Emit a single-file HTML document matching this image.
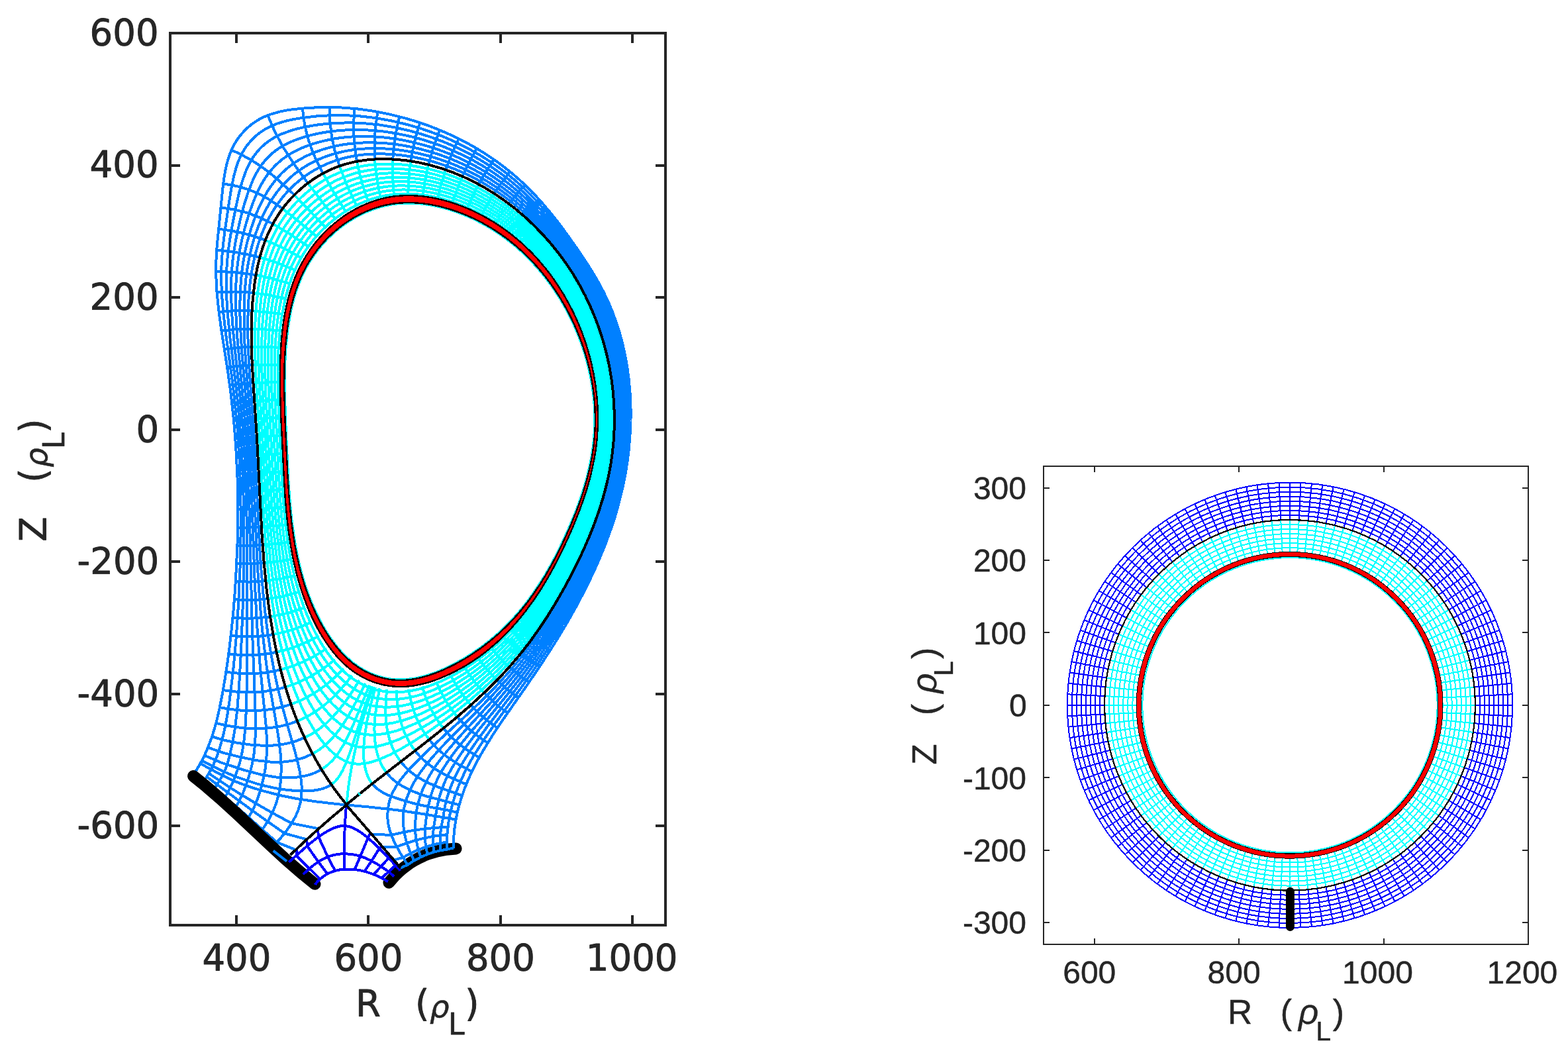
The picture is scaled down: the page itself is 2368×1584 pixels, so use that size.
<!DOCTYPE html>
<html lang="en">
<head>
<meta charset="utf-8">
<title>Tokamak edge grids: single-null and annular geometry</title>
<style>
html,body{margin:0;padding:0;background:#fff;}
body{width:2368px;height:1584px;overflow:hidden;}
svg{display:block;}
text{fill:#262626;stroke:#262626;stroke-linejoin:round;}
.lt{font-family:'DejaVu Sans','Liberation Sans',sans-serif;}
.rt{font-family:'Liberation Sans','DejaVu Sans',sans-serif;}
</style>
</head>
<body>
<svg width="2368" height="1584" viewBox="0 0 2368 1584">
<rect x="0" y="0" width="2368" height="1584" fill="#ffffff"/>
<g id="left-plot">
<g fill="none" stroke-linejoin="round" shape-rendering="crispEdges">
<path id="plate-right" d="M587.4 1332.7l9.4-10.8l5-4.9l6.3-5.5l11.4-8.4l6.1-3.7l7.2-3.9l7.5-3.5l6.6-2.6l13.6-4.1l13.9-2.6l14.2-1.2" stroke="#000" stroke-width="18" stroke-linecap="round" shape-rendering="auto"/>
<path id="sol-mesh" d="M615.5 1305.9l-11.1-17.9l-8.1-15l-3.2-7l-2.8-7l-1.9-6l-1.5-6l-1.2-7l-0.4-6l0.1-6l0.7-7l0.9-6l1.3-6l2-6l2.5-6l5.5-10l7-10l8.9-11l12-13l22.5-22l51.3-47l24-22.7l24-24l21-22.9l19-22.8l18-23.7l17.8-25.9l16.8-27l11-19l10.9-20l9.7-19l9.2-19l8-18l7.6-18.5l6.6-17.5l6-18l5.1-17l4.4-17l3.7-17l3-17l2.3-17l1.6-17l0.9-17l0.3-17l-0.5-18l-1.3-18l-1.9-17l-2.8-18l-3.6-18l-4.1-17l-4.9-17l-5.7-17l-6.2-16l-6.9-16l-7.8-16l-8.1-15l-9-15l-9.8-15l-10.3-14.4l-11-14l-12-14.1l-12-12.9l-12-11.9l-13-11.8l-13-10.8l-14-10.6l-14-9.6l-15-9.3l-14-7.8l-15-7.4l-15-6.6l-16-6l-16-5.2l-15-3.9l-16-3.4l-16-2.6l-11-1.2l-11-0.8l-11-0.4l-10 0.1l-10 0.5l-10 0.9l-10 1.4l-10 2l-9 2.2l-9 2.7l-9 3.2l-8 3.3l-8 3.8l-8.4 4.6l-8.1 5l-7.5 5.2l-8 6.3l-7 6.1l-6.6 6.4l-6.4 7l-6 7.2l-5.8 7.8l-5.2 7.8l-4.9 8.2l-4.8 9l-4.3 9l-4 9.5l-3.5 9.5l-3.3 10l-2.8 10l-2.7 11l-2.3 11l-2 12l-1.8 13l-1.4 14l-1 14l-1 30l0.4 33l2 40l5.5 75l2.2 34l8 161l2.5 36l2.7 32l3.2 31l3.8 29l4.3 28l5 27l5.3 25l6.3 26l6.6 24.4l13.2 46.6l4.9 19l2.4 11l1.6 9l1.1 8l0.5 8l-0.3 12l-1.7 11l-3.2 11l-4.3 10l-6.3 11l-8.3 12l-9.9 12l-10.5 11.1M625.2 1299.7l-6.9-15.7l-4.8-14l-3.1-13l-1.5-13l-0.2-7l0.2-6l0.6-6l1-6l3.5-13l5.2-13l5.6-11l7.4-12l9.5-13l10.8-13l9.9-11l11.3-12l49.3-49.7l22-23l22-24.3l19-22.9l18-23.6l18-26l16.8-26.5l16.2-27.8l10.4-19.2l9.2-18l8.6-18l7.7-17l7.1-17l6.5-17l5.9-17l4.9-16l4.7-17l3.8-16l3.2-16l2.6-16l1.9-16l1.4-16l0.8-17l0.1-16l-0.5-18l-1.3-18l-2.1-18l-2.6-17l-3.6-18l-4.1-17l-5-17l-5.3-16l-6.1-16l-6.9-16l-7.3-15l-8.1-15l-8.9-15l-9.7-15l-10.3-14.5l-11.1-14.5l-11.9-14.4l-12-13.3l-12-12.3l-13-12.2l-13-11.2l-13-10.3l-14-10l-14-9.1l-15-8.8l-15-7.8l-15-7l-15-6.1l-15-5.3l-16-4.8l-16-4l-16-3.1l-12-1.8l-11-1.2l-11-0.9l-11-0.3l-11 0l-10 0.5l-11 1l-10 1.4l-10 1.9l-10 2.4l-9 2.7l-9 3.1l-9 3.7l-8 3.8l-8.1 4.4l-8.2 5l-7.1 5l-6.6 5.1l-6.7 5.9l-6.3 6.3l-6.1 6.7l-5.9 7.4l-5.4 7.6l-5.1 8l-5.1 9l-4.4 8.6l-4 8.7l-4 9.8l-3.6 9.9l-3.5 11l-3 11l-2.6 11l-2.4 12l-2.1 13l-1.6 13l-1.2 13l-0.9 14l-0.5 15l0.1 33l0.8 21l1.4 24l7 89l2.7 41l2.3 47l4.5 105l2.6 49l4.2 57l2.5 26l2.9 25l3.2 25l3.7 24l11.6 67l3.1 20l2.5 21l1 19l-0.3 15l-1.4 15l-2.2 12l-3.4 12l-4.6 12l-6 12l-7.4 12l-8.7 11.8M635.3 1294.3l-4.8-16.3l-2.6-14l-0.6-7l-0.3-8l0.7-15l0.9-7l1.5-8l1.9-8l2.4-8l2.8-8l2.9-7l6.9-14l5.4-9l6.7-10l7.4-10l8.8-11l18.2-21l47.5-51.9l22-24.8l22-26.7l11-14.3l10-13.6l12-17.2l11-16.7l11-17.6l10.8-18.2l10.6-19l10-19l9.5-19l8.4-18l11.8-28l10-27l8.4-27l6.5-26l5.1-26l3.4-26l1.2-13l0.8-14l0.3-26l-0.6-18l-1.4-18l-2.2-18l-2.7-17l-3.5-17l-4.2-17l-4.9-17l-5.8-17l-6.3-16l-6.6-15l-7.4-15l-7.6-14l-9-15l-10.5-16l-11.1-15.7l-11-14.5l-11-13.4l-12-13.5l-12-12.6l-13-12.5l-13-11.5l-13-10.4l-13-9.6l-14-9.4l-14-8.5l-15-8.2l-15-7.3l-15-6.5l-15-5.7l-16-5.2l-16-4.4l-16-3.6l-12-2.2l-12-1.7l-12-1.3l-11-0.7l-11-0.3l-11 0.1l-11 0.5l-11 1.1l-11 1.6l-10 1.9l-10 2.4l-10 2.9l-9 3.2l-9 3.6l-9 4.3l-8 4.4l-7 4.4l-7 5l-6 4.9l-6 5.5l-5.7 5.9l-5.3 6.2l-5.1 6.8l-5.4 8l-4.7 8l-4.7 9l-4.3 9l-4.2 10l-7.4 21l-6.2 22l-3.1 14l-2.5 14l-2.1 15l-1.5 15l-0.9 16l-0.5 16l0 17l0.6 19l2.2 38l8.3 97l3.4 51l2.8 60l5 139l3.5 67l4.5 60l8.8 89l1.2 18l0.3 16l-0.6 17l-1.6 15l-2.6 14l-4.9 19l-4.2 13l-5 12l-6.1 12l-7 11.2M645.5 1290l-2.6-13l-1.2-13l0.2-13l1.6-14l3.6-21l4.1-16l2.3-7l3.1-8l7.3-15l5.2-9l6.4-10l7.8-11l8.3-11l17.9-22l45.5-53.2l20-24.1l21-27.1l19-26.6l11-16.5l11-17.2l10.5-17.3l10.3-18l9.8-18l9.9-19l8.7-18l7.7-17l11.6-28l9.6-27l8.2-27l6.5-27l4.8-26l1.8-13l1.5-14l1.8-27l0.1-26l-0.7-18l-1.5-18l-2.3-18l-2.8-17l-3.8-18l-4.3-17l-5.1-17l-5.6-16l-6-15l-6.7-15l-7.5-15l-7.8-14l-9.1-15l-10.6-16l-11.3-16l-11.7-15.5l-12-14.7l-12-13.6l-12-12.7l-12-11.7l-12-10.8l-13-10.8l-13-9.8l-14-9.6l-14-8.7l-15-8.4l-15-7.6l-15-6.7l-15-5.9l-16-5.6l-16-4.7l-16-4l-13-2.7l-12-2l-12-1.6l-12-1.1l-12-0.7l-11-0.2l-12 0.2l-11 0.7l-11 1.2l-11 1.6l-11 2.2l-11 2.7l-10 2.9l-10 3.6l-9 3.7l-8 3.9l-7 4l-6 3.9l-6.2 4.5l-5.9 5l-5.2 5l-5.4 6l-4.7 6l-4.9 7l-4.2 7l-4.3 8l-7.6 17l-7.6 20.8l-6.8 23.2l-3.7 15l-2.9 14l-2.4 14l-1.8 14l-1.3 14l-0.9 15l-0.3 16l0.1 16l0.8 21l1.5 24l11.3 122l2.5 35l2.2 39l2.5 71l4.2 177.5l4.6 120.5l0.3 31l-0.7 17l-1.6 16l-2.4 14l-3.7 15l-5 16l-5.7 15l-6.2 13l-7.6 13.4M655.5 1286.6l-1-7.6l-0.6-7l-0.1-7l0.3-7l1.5-13l5.1-29l3-13l3.9-12l4.9-12l5.9-12l5.7-10l6.2-10l7.4-11l8.7-12l17.6-23l42-52l19-24.2l20-27.2l19.6-28.6l10.9-17l10.4-17l10-17l9.5-17l9.5-18l8.5-17l8.1-17l7.5-17l11.2-28l9.6-28l7.8-27l6.2-27l4.6-27l3-27l1.5-27l-0.1-27l-0.9-18l-1.7-18l-2.4-18l-3-17l-3.7-17l-4.5-17l-5.3-17l-5.8-16l-6.1-15l-6.5-14l-7.2-14l-8.5-15l-9.9-16l-11.3-16.8l-12-16.8l-12-15.8l-12-14.7l-12-13.7l-12-12.7l-12-11.8l-12-10.8l-13-10.8l-13-9.8l-13-9l-14-8.8l-15-8.6l-15-7.6l-15-6.9l-15-6.2l-16-5.7l-16-5l-16-4.3l-24-5l-12-1.9l-12-1.5l-12-1l-11-0.6l-12-0.3l-11 0.3l-12 0.6l-11 1.1l-11 1.5l-11 1.9l-11 2.4l-10 2.7l-10 3.2l-8.9 3.4l-7.1 3.2l-7 3.6l-6 3.6l-6 4.2l-5.4 4.4l-5.4 5l-4.6 5l-4.6 5.7l-4 5.8l-4 6.5l-3.7 7l-3.3 7.1l-6.5 16.9l-6.3 20l-4.7 18l-4.2 18l-3.5 17l-2.6 16l-2 15l-1.3 15l-0.7 15l-0.2 16l0.8 27l2.2 31l2.6 27l7.9 73l4 45l2.7 40l2 44l1.6 63l0.6 76l-0.4 132l-0.5 46l-0.7 28l-1.2 23l-1.8 20l-2.7 18l-3.3 15l-3.9 13l-7.2 19l-6.8 14l-8.4 14.4M665.4 1284.2l-0.8-13.2l0.7-14l1.4-10l2.7-13l1.6-11l1.5-8l3.1-12l4.3-13l5-12l6.4-13l5.5-10l6.6-11l7-11l8.9-13l17.5-24l39.2-51.2l18-24.2l21-29.9l19-28.9l20.5-33.8l18.3-33l8.8-17l7.8-16l7.3-16l6.9-16l10.9-28l9.3-28l7.8-28l5.9-27l2.5-14l2-14l1.7-14l1.2-14l0.8-14l0.5-14l-0.4-27l-1.1-18l-1.9-18l-2.6-18l-3.1-17l-3.9-17l-4.7-17l-5.5-17l-6.1-16l-6.4-15l-6.7-14l-7.5-14l-8.8-15l-10.9-17l-12.6-18.4l-13-18l-12-15.6l-11-13.4l-12-13.6l-12-12.7l-12-11.8l-12-10.8l-12-9.9l-13-9.8l-13-9l-14-8.9l-15-8.6l-15-7.8l-15-7l-15-6.3l-16-5.9l-16-5.2l-17-4.8l-24-5.4l-23-3.7l-23-2.3l-22-0.8l-23 0.7l-11.7 1l-11.3 1.3l-11 1.7l-11 2.1l-10 2.3l-9 2.6l-14 5l-7 3.2l-6 3.3l-5.6 3.5l-5.4 4l-5 4.2l-4.9 4.8l-4.1 4.7l-4.1 5.3l-3.9 5.9l-3.4 6.1l-6 13l-5.4 16l-4.2 15.5l-4.6 20.5l-5.4 27.1l-3.9 22.9l-2.4 17l-1.7 16l-1 16l-0.3 16l0.6 24l1.9 27l3 30l8.8 71.6l4.3 40.4l3.7 46l2.6 48l1.6 59l0.1 64l-1.4 73l-2.8 72l-2.8 50l-2.9 38l-3.2 28l-4.3 25l-4.9 21l-2.5 9l-2.4 7l-3.3 7l-4.8 9.1l-12 19.6M675 1282.6l-0.3-9.6l0.6-12l2.7-24l0.9-5l5.3-21l4.8-15l6.3-16l8-17l5.9-11l6.3-11l15.9-25l16.7-24l38.9-53.4l18-25.5l20.2-30.1l19-30l19.3-33l17.2-32l15-31l7.1-16l6.2-15l10.8-29l8.9-28l7.3-28l5.8-28l4.1-28l2.5-28l0.7-14l0.3-14l-0.1-14l-0.6-14l-1.4-19l-2.1-18l-2.9-18l-3.4-17l-4.2-17l-5-17l-5.5-16l-6.3-16l-6.3-14l-7-14l-8.4-15l-9.1-15l-11.8-18l-14.6-21l-12.7-17.3l-13-16.6l-12-14.4l-11-12.4l-11-11.5l-12-11.6l-12-10.6l-12-9.8l-13-9.7l-13-8.9l-14-8.8l-15-8.6l-15-7.8l-15-7.1l-15-6.3l-16-6l-16-5.4l-17-4.9l-24-5.7l-23-4.2l-23-2.8l-23-1.4l-24 0l-23 1.4l-23 2.9l-10 1.7l-10 2.2l-8 2.2l-7 2.3l-12 5.2l-6 3.3l-5.6 3.6l-5.3 4l-4.6 4l-4.5 4.4l-4 4.6l-4 5.1l-4 6.1l-3.2 5.8l-2.9 6l-2.9 7l-2.3 7l-3.8 14l-3.5 17l-3.4 21.2l-6.9 46.8l-2.3 19l-1.6 17l-0.8 15l-0.3 16l0.8 25l2.2 27l3.5 30l9.4 67.7l4.3 35.3l4.2 43l2.9 43l1.9 51l0.5 54l-1 56l-2.6 59l-3.4 52l-4.6 50l-5.7 47l-2.7 18l-2.9 16l-3 14l-3.6 14l-3.6 12l-3.8 11l-4.3 10l-4.5 9l-5.2 9l-7.1 11M290.8 1171.7l6.6-10l6.5-11.4l5.8-11.5l5-11.8l4.9-13.2l4.3-13.4l4-14.7l3.4-14.9l4-20.1l4.4-25.3l3.7-24.1l3.4-25.6l2.9-25.6l2.7-26.9l2.2-27l1.7-27l2.3-50.1l0.7-50l-0.8-48.7l-2.4-47.4l-3.3-40.9l-4.4-39.6l-4.2-30.7l-10.3-66.3l-3.9-29.3l-2.6-26.7l-1.2-25.4l0.2-20.2l1.2-21.6l8.6-86.3l1.8-14.7l1.9-11.8l2.5-11.4l2.8-9.9l2.5-7.1l2.9-6.9l2.8-5.5l3.8-6.3l3.5-5l4.6-5.7l4.9-5.3l4.4-4.2l5.7-4.6l5-3.5l6.2-3.9l5.5-2.9l5.7-2.5l7.1-2.6l13.6-3.8l9-1.8l10.4-1.5l23.6-2.3l24.8-0.9l24.6 0.6l23.1 1.8l24.1 3.3l23.9 4.6l23.7 5.9l17.2 5.1l15.9 5.3l15.6 6l15.4 6.5l15.2 7l14.8 7.6l14.6 8.2l14.2 8.8l13.8 9.3l12.4 9l13 10.4l11.6 10l11.2 10.5l11.7 11.9l11.2 12.4l11.7 13.7l12.8 16.1l13.9 18.7l14.9 21.2l14.4 21.4l10.3 16.4l8.4 14.4l7.1 13.6l6.6 13.8l6.4 15.3l6.1 16.8l5 15.8l4.6 17.3l3.8 17.5l3.1 17.7l2.3 17.9l1.7 19.2l0.8 14.2l0.3 14.2l-0.1 14.2l-0.5 14.3l-2.2 28.3l-1.7 14.2l-2.2 15.3l-2.5 14l-3.1 15.1l-7.1 28.6l-4.3 14.7l-4.7 14.6l-10.4 28.7l-12.3 29.5l-14.1 30.1l-15.9 30.7l-17.8 31.4l-18.2 29.8l-20.4 31.5l-19.7 29l-36.3 52.1l-15.7 23.6l-15.3 25l-6.8 12.2l-5.9 11.2l-7.5 16l-6.2 15.2l-5.4 15.5l-4.2 14.6l-3.3 15l-2.4 15.5l-1.3 14.5l-0.5 14.9M500.4 1184.8l-6.5 3.7l-7.5 2.7l-8.3 1.9l-9.9 1.1l-11.5 0.2l-12.5-0.5l-13.4-1.4l-13.9-2.2l-14.1-3l-15-3.9l-31.8-10.6l-14.8-6.2l-36.4-18M485.6 1161.9l-7.1 3.8l-7.4 3l-8.1 2.4l-8.4 1.7l-9.4 1.2l-10 0.4l-10-0.2l-10.4-0.9l-20.7-3.7l-26.1-6.9l-34.6-11.4l-24.6-10.6M472.1 1138.3l-14.2 6.2l-15.5 4.2l-16.3 2l-17.5-0.1l-21.9-2.5l-26.4-5.5l-25.2-6.4l-21-7.6M459.9 1113.9l-14 5.5l-14.5 3.8l-15.3 2.2l-16.5 0.5l-19.5-1.1l-21.8-3l-19.5-4.1l-18.7-5.4M449 1089l-13.2 4.6l-13.6 3.3l-14.3 2.2l-15 1l-16.5-0.2l-16.9-1.5l-16.8-2.7l-16.5-3.8M439.4 1063.5l-11.9 3.7l-12.7 2.8l-12.8 2l-13.5 1l-14 0.2l-13.9-0.8l-14.4-1.7l-14.3-2.5M431.1 1037.6l-11.1 2.9l-11.3 2.3l-11.4 1.5l-12 1l-12 0.2l-11.9-0.5l-12-1.1l-12.5-1.9M423.8 1011.3l-20.1 4l-20.4 1.9l-20.9-0.2l-21-2.2M417.6 984.8l-17.7 3l-17.9 1.4l-18-0.1l-18.7-1.7M412.4 958.1l-15.9 2.2l-15.4 1.1l-16-0.1l-16.4-1.3M408 931.2l-13.9 1.7l-14 0.8l-14-0.1l-14.6-1M404.3 904.2l-12.5 1.2l-12.4 0.7l-12.5-0.1l-13-0.7M401.2 877.2l-22.9 1.4l-22.5-0.6M398.7 850l-21 1.1l-20.4-0.3M396.6 822.9l-19.5 0.9l-18.7-0.2M394.9 795.7l-18 0.8l-17.8 0M393.4 768.5l-34.1 1M392 741.3l-33 1.1M390.7 714.1l-32.4 1.4M389.4 686.9l-32.3 1.7M387.9 659.7l-32.6 2.2M386.2 632.5l-33.1 2.7M384.3 605.4l-34 3.1M382.4 578.2l-17.9 1.5l-17.5 2M380.8 551l-18.9 1.4l-18.8 2.4M379.8 523.8l-20.9 1.2l-20.1 2.5M379.7 496.6l-23 0.6l-22.2 2.4M380.5 469.3l-25-0.3l-25 2M382.7 442.2l-14-1.2l-13.9-0.5l-13.5 0.1l-13.7 0.7M386.5 415.2l-15.3-2.3l-14.9-1.6l-15-1l-15.1-0.2M392.3 388.6l-16-3.8l-16.2-3.1l-16.3-2.3l-16.6-1.6M400.7 362.7l-17.5-6.1l-17.3-4.8l-17.6-3.6l-18.2-2.5M412.1 338l-19.3-9.4l-19.2-7.2l-19.4-4.9l-20.7-3.1M426.7 315.1l-11.4-8.1l-11-7l-10.5-5.7l-10.9-5.1l-10.8-4l-11-3.3l-11.7-2.5l-12.3-1.9M444.5 294.4l-24.9-23.2l-11.1-9.2l-11.2-8.5l-11.2-7.6l-11.5-6.9l-11.9-6.4l-13.1-6.1M464.9 276.5l-21.4-29.5l-15.7-24.4l-12.5-23.3l-10.9-25.2M487.8 261.8l-6.9-13.3l-5.7-12.2l-4.7-11.6l-4.1-11.8l-3.3-11.6l-2.7-12.2l-2-12.3l-1.5-13.3M512.7 250.8l-7-22.5l-4.6-21.5l-2.6-21.8l-0.7-23.1M539 243.8l-3.1-19.8l-1.6-19.9l-0.1-20l1.3-20.1M566 240.5l-0.5-18l0.6-18l1.7-17.9l2.7-17.7M593.2 240.5l1.3-16l2.1-16.3l3-16.2l3.7-15.9M620.3 243.3l2.6-14.7l3.2-14.7l3.8-14.5l4.4-14.1M647 248.7l7.6-26.4l9.5-25.9M673.1 256.4l9-23.8l10.6-23.2M698.4 266.4l10.3-21.7l11.3-20.4M722.9 278.3l11-19l12-18.4M746.3 292.2l11.6-16.9l12.3-16.1M768.6 307.8l11.9-14.8l12.4-13.7M789.7 325l11.6-12.5l12.3-11.9M809.6 343.6l11.3-10.7l11.7-10M828.2 363.5l22.1-17.8M845.3 384.7l21.7-15.7M861 406.9l22-14.4M875.1 430.2l23.3-13.4M887.6 454.4l24.8-12M898.5 479.4l25.8-10.2M907.7 505l26.3-8.3M915.2 531.2l26.4-6.4M921 557.8l26.1-4.5M925.1 584.7l25.6-2.7M927.4 611.8l25-1M927.9 639l24.5 0.6M926.6 666.2l24.2 2M923.5 693.3l24 3.4M918.7 720.1l24 4.9M912.2 746.5l24.2 6.5M904.2 772.6l24.5 7.9M894.8 798.1l24.9 9.4M884.4 823.3l25.1 10.7M872.9 848l25.4 12M860.6 872.3l25.6 13.1M847.5 896.2l25.7 14.2M833.6 919.6l25.9 15.4M818.9 942.5l26.2 16.7M803.3 964.8l26.9 18.4M786.7 986.4l13.5 10.4l14.5 10.1M769.1 1007.2l14.2 11.8l15.5 11.4M750.5 1027.1l15.3 13.7l16.9 12.9M731.1 1046.2l16.7 15.9l9.3 7.5l9.5 7M711.1 1064.6l8.9 9.5l9.6 8.8l10.5 8.5l11 7.9M690.5 1082.5l9.8 10.7l11 10.2l12.2 9.5l13.1 8.8M669.5 1099.8l11.1 12.3l12.6 11.4l14.5 10.6l16 9.7M648.2 1116.8l5.8 6.9l6.6 6.8l7.1 6.4l7.4 5.9l17.1 11.3l20.5 10.9M626.7 1133.5l6.5 7.7l7.1 7l7.7 6.4l8.5 6.1l9.4 5.8l11 5.8l27.2 12.1M605.2 1150.2l6.8 7.9l7.7 7.1l8.8 6.6l9.8 6l10.3 5.2l12 5.1l37.2 13.2M583.6 1166.8l7 7.8l8.4 7l10.2 6.4l12.1 6l11.6 4.6l12.8 4.2l47.8 12.6M562.1 1183.5l6.2 6.5l7.7 5.5l9.8 5l12.6 4.7l18.2 5.7l16.9 4.4l19.6 4l22.1 3.9l15.4 3.6M523 1215.7l-46.7-5.4l-27.7-4.2l-25-5l-30.5-7.9l-20.9-6.8l-13.1-4.9l-10.6-4.4l-11.7-5.7l-34.3-18.4M523 1215.7l13.5 0.9l21.4 2l42.2 4.7l42 6.3l46.3 7.9M481.2 1251.3l-40.8-8.1l-29.2-15.8l-24.9-14.3l-20.7-12.4l-17.9-11.2l-16.2-10.8l-16.1-10.9M463.3 1267.5l-33.6-9.1l-25.5-17.9l-23-16.4l-37.2-27.4l-31.7-23.6M446.6 1283.2l-28.5-11.3l-42.7-37.6l-18.6-16.3l-16.8-14.3l-15.7-13.1l-15.3-12.4M561.3 1259.7l29.7 1.2l19.3-4.4l16.8-3.1l14.8-2l13-1.3l11.4-0.8l10.3-0.6M578.4 1279.5l20.7-0.9l15.3-5.6l14.2-4.4l13.2-3.3l12-2.4l11.1-1.6l10.5-1.1M594.7 1298.6l13.9-3.7l11.6-6.4l11.6-5.4l11.4-4.3l11-3.3l10.4-2.3l10.1-1.6M605 1310.7l10.5-4.8l9.7-6.2l10.1-5.4l10.2-4.3l10-3.4l9.9-2.4l9.6-1.6l9.6-2" stroke="#0080ff" stroke-width="4"/>
<path id="plate-left" d="M292.1 1172l19.3 15.6l20.6 17.7l23.9 21.7l52.3 49.2l21.9 20.2l24.2 21.2l21.2 17.2" stroke="#000" stroke-width="18" stroke-linecap="round" shape-rendering="auto"/>
<path id="plate-gap" d="M412.7 1284.6L433.1 1300.5" stroke="#0080ff" stroke-width="4" shape-rendering="auto"/>
<path id="pf-mesh" d="M604.4 1314.7l-12.4-13.7l-16-16.6l-12-11.7l-11-9.6l-9-6.8l-8-4.8l-7-2.9l-7-1.5l-7 0.1l-4 0.8l-4 1.2l-8 3.4l-10 5.7l-10 6.9l-12 9.4l-30.8 27.2M595.1 1323.7l-6.1-5.7l-9-6.6l-11-7l-11-5.9l-9-3.9l-9-2.9l-8-1.6l-9-0.8l-9 0.2l-8 1.1l-8 2.2l-8 3.3l-8 4.4l-7 4.8l-7.1 5.7l-10.3 9.3M475.7 1335.8l3.9-4.8l4.9-4.7l5.2-3.9l5.5-3.2l5.8-2.6l6.8-2.1l6.9-1.4l7.2-0.6l7.3 0l8.1 0.7l8.1 1.4l8.1 2l8.6 2.9l8.3 3.4l7.9 4l7.4 4.3M523 1215.7l-2 26.9l-1 25l-0.2 24.5l0.7 20.5M480 1252.4l1.1 11.3l14 30.2l11 21M463.3 1267.6l0.5 9.6l16.9 24.1l13.8 18.2M447.6 1282.2l-0.1 9.6l19.8 19.7l16.1 15.8M559.3 1257.3l-3.6 8.1l-11.5 27.5l-8.6 20.1M576.5 1277.3l-3.6 3.9l-11.8 18.9l-10.6 15.7M590.3 1293.5l-3.4 2.1l-11.3 12.8l-11.4 11.9M599.3 1304l-2.2 2.5l-10.2 9.9l-10.8 9.3" stroke="#0000ff" stroke-width="4"/>
<path id="core-mesh" d="M570 248l-11 1l-10 1.5l-10 1.9l-9 2.3l-9 2.8l-9 3.4l-9 4l-8.1 4.1l-8.6 5l-8.3 5.4l-8 5.8l-8.3 6.8l-7.7 7l-7.9 8l-7.1 8l-6 7.5l-5.4 7.5l-5.2 8l-4.7 8l-4.6 9l-4.1 9l-3.6 9l-3.5 10l-3 10l-2.9 11l-2.4 11l-3.9 23l-2.9 26l-1.6 28l-0.3 33l1.2 38l5.9 97l5.8 112l3.1 46l4 43l4.7 38l5.9 36l6.9 33l5 20l5.4 19l5.8 18l6.1 17l7 17l7 15l7.3 14l7.7 13l8.3 12.3l8 10.3l8 8.7l8 7.3l8 5.8l8 4.2l5 1.9l4 1.1l8 1l5 0l5-0.4l6-1.1l6-1.4l13-4.5l15-6.6l17-9l19-11.3l20-13l20-14.1l20-15l20-16l18-15.4l17-15.6l16-15.9l14-15l14-16.3l13-16.3l13-17.8l13-19.2l12.4-19.7l12.2-21l11.9-22l11.6-23l10.2-22l9.3-22l7.6-20l6.7-20l5.6-19l4.7-19l3.6-18l2.9-19l1.9-18l1.2-19l0.2-20l-0.7-19l-1.6-19l-2.5-19l-3.4-19l-4.3-19l-5.3-19l-5.9-18l-6.8-18l-7.9-18l-8.3-17l-9.4-17l-9.9-16.1l-11-15.9l-11-14.4l-12-14.3l-13-13.9l-14-13.6l-14-12.3l-15-11.9l-15-10.7l-16-10.2l-16-9.1l-17-8.5l-17-7.2l-17-6.2l-17-5l-17-3.9l-17-2.9l-17-1.8l-17-0.6l-16 0.5zM576 255l-11 1l-10 1.4l-10 2l-9 2.3l-9 2.9l-9.1 3.4l-8.9 3.9l-9 4.7l-9 5.3l-8 5.3l-9 6.7l-8 6.7l-8 7.4l-7 7.1l-7 8l-7 8.9l-5.7 8l-5 8l-4.5 8l-4.5 9l-4 9l-3.4 9l-3.4 10l-3 10l-2.7 11l-2.4 11l-3.9 24l-2.8 27l-1.5 28l-0.2 33l1.2 38l5 85l5.1 98l3.6 52l4.1 42l5.1 38l3.1 18l3.2 17l3.6 16.8l4 16.5l5.1 18.7l5.9 18.8l6 16.9l6.5 16.3l6.8 15l7.3 14l7.4 12.7l8 12l8 10.4l9 9.9l8 7.4l9 6.7l8 4.6l9 3.8l9 2.2l9 0.9l11-0.4l6-0.8l7-1.4l13-3.7l15-5.6l16-7.4l17-9l17-10.1l18-11.7l18-12.7l18-13.8l18-14.8l16-14.3l15-14.5l14-14.7l14-16.1l13-16.2l13-17.6l12.8-18.8l12.2-19.5l12-20.5l11.9-22l11.1-22.2l10.1-21.8l9.2-22l7.6-20l6.4-19l5.6-19l4.7-19l3.7-19l2.7-18l1.9-18l1-19l0.2-18l-0.8-19l-1.6-19l-2.5-19l-3.5-19l-4.1-18l-5-18l-5.9-18l-6.9-18l-7.4-17l-8.4-17.2l-9.2-16.8l-9.8-16l-10-14.6l-11-14.5l-12-14.3l-13-13.9l-13-12.6l-14-12.3l-15-11.8l-15-10.7l-15-9.6l-16-9l-16-8l-16-6.9l-17-6.2l-17-5.1l-16-3.8l-17-2.9l-16-1.6l-16-0.7l-16 0.5zM577 262l-10 1.1l-10 1.7l-10 2.2l-9 2.5l-9 3.1l-9 3.6l-9 4.2l-9 4.9l-9 5.6l-8.6 6.1l-8.4 6.5l-8 7l-7.7 7.5l-7.3 7.8l-6.9 8.2l-6.1 8.2l-5.3 7.8l-4.8 8l-4.9 9l-4 8.5l-4 9.5l-3.3 9l-3.2 10l-3.1 11l-2.6 11l-2.4 12l-3.7 25l-2.4 27l-1.2 29l0 32l1.3 37l4 71l4.7 91l1.9 29.2l2.1 26.8l4.4 41l2.6 19l2.8 18l3.1 17l3.5 17l3.8 16l4.2 16l5.3 18l5.8 17l6.4 16.8l6.6 15.2l6.9 14l7.5 13.4l8 12.6l8 10.9l8 9.4l9 8.9l9 7.4l9 5.8l9 4.5l9 3.1l9 1.9l10 0.8l12-0.5l13-2.1l14-3.6l14-4.9l15-6.4l16-8l17-9.6l17-10.7l17-11.7l17-12.8l16-13.1l15-13.3l14-13.5l14-14.7l13-14.9l13-16.2l13-17.8l12-17.8l12-19.2l12-20.8l11.8-22.1l10.8-22l10-22l8.6-21l7.5-20l6.2-19l5.4-19l4.3-18l3.4-18l2.6-18l1.7-18l0.9-19l-0.1-18l-0.8-18l-1.9-19l-2.5-18l-3.4-18l-4.3-18l-5.2-18l-6-18l-7-17.9l-7.6-17.1l-8.4-16.8l-9-16.1l-9.4-15.1l-10.4-15l-10.9-14l-11.3-13.3l-13-13.7l-13-12.3l-14-12.1l-14-10.8l-15-10.5l-15-9.4l-16-8.9l-16-7.7l-16-6.7l-16-5.7l-16-4.6l-17-3.8l-16-2.5l-16-1.4l-16-0.4l-15 0.8zM589 268l-10 0.7l-10 1.3l-10 1.9l-10 2.4l-10 3.1l-9 3.3l-9 3.9l-9 4.6l-9 5.2l-9 6l-8.9 6.6l-8.1 6.7l-8 7.4l-7.7 7.9l-7 8l-6.4 8l-5.6 8l-5.3 8.3l-4.9 8.7l-4.5 9l-4 9l-3.8 10l-3.4 10l-2.9 10l-2.8 11l-2.5 12l-2.1 12l-1.9 13l-2.7 27l-1.4 29l-0.1 34l1.2 38l7.8 148l1.9 30l2.1 26l4.4 40l2.6 19l3 18l3.2 17l3.7 17l4 16l4.1 14.8l5.7 18.2l6.1 17l6.2 15.2l7 15.2l7.1 13.6l7.9 13.3l8 11.7l8 10.2l8 8.8l9 8.4l9 6.9l9 5.5l9 4.2l10 3.3l10 1.9l10 0.8l12-0.4l13-1.9l13-3.1l14-4.5l15-6l15-7.1l16-8.6l16-9.7l16-10.7l16-11.7l15-12l15-13.1l14-13.3l13-13.6l13-14.8l12-14.9l12-16.2l12-17.6l12-19.2l11.3-19.6l11.3-21l10.9-22l10-22l8.7-21l7.1-19l6.3-19l5.5-19l4.4-18l3.5-17.8l2.5-17.2l1.8-18l1-18l0-17l-0.7-18l-1.6-18l-2.4-18l-3.3-18l-3.9-17l-5-18l-5.6-17l-6.4-17l-7.3-17l-7.8-16l-8.6-16l-9-15l-9.7-14.5l-10-13.5l-11.6-14l-11.9-13l-12.5-12.4l-13-11.6l-14-11.3l-14-10.1l-15-9.8l-15-8.7l-16-8.2l-15-6.6l-16-6.1l-15-4.8l-16-4l-16-3l-15-1.8l-15-0.8l-15 0.2zM585 274.9l-10 1.2l-10 1.8l-10 2.4l-10 3l-9 3.3l-9 3.9l-9 4.5l-9 5.2l-9 5.8l-8.2 6l-8.6 7l-7.7 7l-7.5 7.6l-7 7.8l-7 8.6l-6 8.4l-5 7.7l-5.1 8.9l-4.6 9l-4.1 9l-3.9 10l-3.3 9.5l-3.1 10.5l-2.9 11l-4.6 23l-3.5 26l-2.1 27l-1 30l0.3 33l1.6 39l6.6 129l2.1 31l2.4 27l4.4 38l2.8 18l3 17l3.3 16l3.7 16l4.3 16l4.5 15l5.8 17l6.2 16l6.5 15l7 14l7.2 13l7.7 12l8 11l8.8 10.4l9 9.1l8.9 7.5l9.1 6.3l9 4.9l9 3.7l10 2.9l10 1.8l11 0.6l12-0.5l13-1.9l14-3.4l14-4.5l14-5.6l15-7.1l15-8l16-9.7l15-10.1l15-11l14-11.2l14-12.3l13-12.6l13-13.7l12-13.8l12-15.1l12-16.5l12-18l11.2-18.2l11.3-20l11-21l10.1-21l9.7-22l8.7-21.5l7-19.3l6-18.9l5-18.3l4.1-18l3.2-18l2.2-17l1.4-17l0.6-18l-0.2-17l-1.1-18l-2-18l-2.6-17l-3.6-17.8l-4.3-17.2l-5.1-17l-5.9-17l-6.7-16.8l-7.4-16.2l-8.1-16l-9.1-16l-9.4-14.9l-9.9-14.1l-10.1-12.9l-11-12.7l-12-12.6l-13-12.3l-13-11.1l-14-10.7l-14-9.6l-15-9.3l-15-8.2l-15-7.1l-15-6.2l-16-5.6l-16-4.5l-15-3.3l-15-2.3l-15-1.3l-15-0.2l-14 0.8zM591 280.9l-10 1.2l-10 1.7l-9.6 2.2l-9.4 2.7l-10 3.6l-9 3.8l-9 4.4l-9 5.1l-9 5.8l-9 6.5l-8 6.5l-8 7.2l-8 8l-7 7.8l-6.9 8.6l-6.1 8.5l-5 7.8l-5.1 8.7l-4.6 9l-4.3 9.6l-3.7 9.4l-3.5 10l-3.3 11l-2.8 11l-2.5 12l-2.2 12l-3.3 25l-2.1 27l-0.9 30l0.3 34l1.8 43l5.8 114l2 30l2.4 26.7l2.2 19.3l2.4 18l2.6 17l3 16l3.4 16l3.6 15l4.2 15l4.7 15l5.6 16l6.3 15.7l6.9 15.3l7.1 13.7l7.2 12.3l7.9 12l7.9 10.4l9 10.2l9 8.8l9 7.3l9 6.1l9 4.8l10 4.1l10 2.8l10 1.6l11 0.7l12-0.5l13-1.7l13-2.9l14-4.3l14-5.4l14-6.4l15-7.9l15-8.9l15-9.8l15-10.9l14-11.2l13-11.5l13-12.5l12-12.8l12-13.9l11-13.8l12-16.6l11-16.5l11-18l11-19.5l10.8-20.8l10-21l9.7-22l8.4-21l6.8-19l5.7-18l5-18l4-18l3.1-17l2.2-17l1.4-17l0.5-17l-0.2-17l-1-17l-1.8-17l-2.6-17l-3.4-17l-4.2-17l-5-17l-5.5-16l-6.3-16l-7.2-16l-8-16l-8.4-15.1l-9-14.4l-10-14.5l-10-13.1l-11-12.9l-12-12.8l-12-11.5l-13-11.2l-13-10.1l-14-9.9l-14-8.7l-15-8.4l-15-7.3l-15-6.3l-15-5.4l-15-4.4l-15-3.5l-15-2.4l-15-1.4l-14-0.4l-14 0.6zM596 287l-10 1l-10 1.7l-10 2.3l-10 3l-10 3.6l-9 3.9l-9 4.5l-8.8 5l-9.2 6l-8.3 6l-8.6 7l-7.7 7l-7.9 8l-7.1 8l-6.4 8l-6.4 9l-5.6 8.7l-4.7 8.3l-4.6 9l-4 9l-3.9 10l-3.4 10l-3.3 11l-2.7 11l-4.5 23l-3.4 26l-2.1 28l-0.8 30l0.2 24l0.7 26l4.9 103l2.7 46l3.3 38l2.3 19l2.3 17l2.8 17l3.1 16l3.4 15l3.8 15l4.4 15l4.6 14l5.9 15.9l6.4 15.1l6.7 14l7.6 14l7.3 11.9l8 11.4l8 9.9l9 9.7l9 8.2l9 7l10 6.3l10 5l9 3.4l9 2.3l11 1.6l11 0.5l12-0.5l13-1.7l13-2.9l13-4l14-5.4l14-6.3l14-7.3l15-8.8l14-9.2l14-10.2l13-10.4l13-11.4l12-11.7l12-12.7l11-12.7l11-14l12-16.6l10.8-16.4l10.9-18l10.3-18.4l10.1-19.6l9.9-21l9.6-22l8.3-21l6.4-18l5.7-18l4.9-18l3.8-17l3.1-17l2.2-17l1.2-16l0.6-17l-0.3-16l-1-17l-1.9-17l-2.6-17l-3.5-17l-4-16l-5-17l-5.6-16l-6.4-16l-7.2-16l-7.6-15l-8.7-15.4l-9-14.3l-9.3-13.3l-10-13l-10.7-12.6l-11-11.6l-12-11.6l-12-10.4l-13-10.2l-13-9.2l-14-8.9l-14-7.8l-15-7.4l-15-6.4l-15-5.4l-15-4.5l-14-3.2l-15-2.6l-14-1.3l-14-0.5l-13 0.6zM601 293l-10 1l-10 1.6l-10 2.2l-10 2.9l-10 3.7l-9 3.8l-9 4.5l-9 5.1l-9 5.9l-8.7 6.3l-8.3 6.8l-7.9 7.2l-7.9 8l-7.1 8l-6.4 8l-6.4 9l-5.3 8.3l-4.9 8.7l-4.6 9l-4 9l-3.9 10l-3.4 10l-3.3 11l-2.7 11l-4.5 23l-1.9 13l-1.4 13l-2.1 28l-0.8 30l0.2 23l0.7 26l4.5 96l2.7 46l3.3 37l2.2 18l2.4 17l2.7 16l3.2 16l3.6 15.4l3.9 14.6l4.3 14l4.8 14l6 15.4l6.5 14.6l7 14l7.4 13l7.1 11.1l8 11l8 9.5l9 9.3l9 7.9l9 6.6l10 6.1l10 4.8l9 3.3l10 2.5l11 1.7l11 0.6l12-0.5l12-1.6l13-2.8l13-3.9l13-4.9l14-6.2l15-7.8l14-8.2l13-8.5l13-9.4l13-10.4l12-10.5l12-11.6l11-11.7l11-12.7l11-14l11-15.3l10.8-16.4l10.2-16.9l10-18l10-19.5l10-21.3l9-20.7l8.2-20.6l6.4-18l5.7-18l4.6-17l3.9-17l3.1-17l2.1-16l1.3-16l0.5-17l-0.2-16l-1.1-17l-1.7-16l-2.6-17l-3.3-16l-4-16l-4.7-16l-5.5-16l-6.4-16l-6.7-15l-7.6-15l-8.4-15l-8.8-14l-9.7-14l-10-13l-10.1-11.9l-11-11.8l-11.7-11.3l-12.3-10.7l-12-9.5l-13-9.2l-13-8.3l-14-7.9l-14-6.9l-14-6.1l-15-5.5l-14-4.3l-14-3.4l-14-2.5l-14-1.6l-14-0.6l-13 0.5zM500.4 1184.8l6.1-5.2l5.6-7l5.3-9.1l5.4-11.8l7.6-20.7l21.3-66.1l10-28.8M485.6 1161.9l8.9-6.4l8.6-8.3l8-10.2l7.7-12.3l7-13.3l7.7-16.8l24.5-59.9M472.1 1138.3l10.6-6.6l10.2-8.1l9.5-9.5l9.5-11.6l8.8-12.7l8.7-14.6l10.4-19.4l11.9-23.9M459.9 1113.9l11.5-6l10.8-7.2l10.5-8.5l10-9.8l9.9-11.2l9.8-12.7l10.4-15.3l9.9-16M449 1089l11.4-5.2l10.9-6.1l10.4-6.9l10.3-7.9l10.1-9l10.1-10.4l9.8-11.3l9.6-12.3M439.4 1063.5l10.8-4.2l10.4-4.8l10.5-5.8l10.1-6.4l9.8-7.1l9.6-7.9l9.2-8.4l9.2-9.4M431.1 1037.6l19.7-7.1l19.3-9.5l18.2-11.4l17.7-13.7M423.8 1011.3l18.2-5.5l17.6-7.2l16.9-8.7l16.8-10.6M417.6 984.8l16.5-4.2l16.1-5.5l15.6-6.7l15.7-8.1M412.4 958.1l14.6-3.2l14.9-4.2l14.6-5.3l14.2-6.1M408 931.2l13.2-2.4l13.7-3.2l13.4-4l12.9-4.6M404.3 904.2l24.1-4.1l24.6-6.6M401.2 877.2l22.3-3.2l22.7-4.8M398.7 850l20.9-2.3l21-3.6M396.6 822.9l19.4-1.8l20.2-2.7M394.9 795.7l37.8-3.3M393.4 768.5l36.7-2.6M392 741.3l36.1-2.1M390.7 714.1l35.8-1.8M389.4 686.9l35.8-1.7M387.9 659.7l36-1.9M386.2 632.5l36.4-2M384.3 605.4l37.3-1.9M382.4 578.2l38.6-1.4M380.8 551l19.5-0.5l20.9 0.1M379.8 523.8l20 0l22.4 1M379.7 496.6l21.4 0.8l23.3 2.1M380.5 469.3l22.9 2l24.4 3.5M382.7 442.2l24.7 3.6l25.3 5.4M386.5 415.2l25.9 5.7l26.8 8M392.3 388.6l13.5 3.9l13.7 4.7l27.7 11.3M400.7 362.7l13.4 5.6l13.6 6.3l29 15.5M412.1 338l25.7 15.4l29.6 20.1M426.7 315.1l23.6 18.6l29.1 24.7M444.5 294.4l48.3 50.1M464.9 276.5l42.5 55.5M487.8 261.8l15.6 27.4l19.5 31.9M512.7 250.8l11.5 29.3l14.9 31.9M539 243.8l3.1 14.6l3.9 15l4.7 15.3l5.6 15.9M566 240.5l1.2 14.4l1.8 14.4l2.6 14.8l3.3 14.9M593.2 240.5l-0.3 27l2 27.9M620.3 243.3l-3 25.3l-1.1 25.8M647 248.7l-5.1 23.4l-3.7 23.8M673.1 256.4l-6.8 21.5l-5.7 22M698.4 266.4l-8.2 19.8l-7.1 20M722.9 278.3l-9.1 17.9l-8.5 18.4M746.3 292.2l-9.7 15.8l-9.5 17M768.6 307.8l-10.2 14.2l-10.2 15.3M789.7 325l-21.3 26.4M809.6 343.6l-22.1 23.6M828.2 363.5l-22.9 21M845.3 384.7l-23.4 18.4M861 406.9l-23.9 16.2M875.1 430.2l-24.2 14M887.6 454.4l-24.4 12M898.5 479.4l-24.5 10M907.7 505l-24.4 8.2M915.2 531.2l-24.3 6.4M921 557.8l-24.2 4.6M925.1 584.7l-24.1 3M927.4 611.8l-24 1.4M927.9 639l-24-0.3M926.6 666.2l-24.1-2M923.5 693.3l-24.3-3.8M918.7 720.1l-24.6-5.6M912.2 746.5l-24.9-7.2M904.2 772.6l-25-8.8M894.8 798.1l-25-10M884.4 823.3l-25-11.2M872.9 848l-24.7-12.1M860.6 872.3l-24.5-13.2M847.5 896.2l-24.4-14.4M833.6 919.6l-24.7-16M818.9 942.5l-25.2-18.1M803.3 964.8l-13.5-10.3l-12.4-10.6M786.7 986.4l-14-12l-12.7-12.3M769.1 1007.2l-14.4-13.8l-13.2-14.6M750.5 1027.1l-15-16l-13.5-17.1M731.1 1046.2l-8-8.9l-7.8-9.7l-7.1-9.7l-6.6-10.3M711.1 1064.6l-8.6-10.3l-8-10.9l-7.5-11.8l-6.6-12.1M690.5 1082.5l-9.2-11.9l-8.5-12.9l-7.4-13.6l-6.6-14.8M669.5 1099.8l-10.2-14.1l-8.8-15.2l-7.3-16.4l-5.7-17.5M648.2 1116.8l-5.9-8.1l-5.3-8.4l-4.7-8.9l-4.3-9.6l-3.6-9.8l-3-10.1l-2.4-10.2l-1.8-10.8M626.7 1133.5l-6.3-9l-5.6-10l-4.8-10.4l-3.9-11.4l-3.1-12.1l-2.2-12.3l-1.3-12.9l-0.4-13.2M605.2 1150.2l-6.7-10l-5.7-11.1l-4.4-12.2l-3.3-13.1l-2-13.9l-0.8-15.5l0.4-16.5l1.5-16.6M583.6 1166.8l-6.8-10.5l-5.2-11.9l-3.7-13.5l-2-14.9l-0.5-16l1-17.4l3-21.8l4-21.4M562.1 1183.5l-3.2-4.5l-2.8-5.3l-2.4-6l-1.9-6.3l-2.3-14.3l-0.4-16.5l1.5-18.9l3.4-21.2l4.9-22.5l8-30.3M523 1215.7l0.7-3.9l2-19.9l2.7-18.8l3.3-18.7l4.9-23l5.3-22.4l6.4-23.7l7.1-23.9l7.9-24.8" stroke="#00ffff" stroke-width="4"/>
<path id="core-inner" d="M600.5 1025.5l-10.4-0.9l-10.2-1.9l-10-2.8l-9.8-3.8l-9.4-4.6l-8.9-5.4l-8.5-6.2l-9.9-8.7l-7.4-7.6l-8.6-10.2l-8-10.9l-7.3-11.3l-6.7-11.8l-7.3-14.5l-6.6-14.9l-5.9-15.2l-4.4-12.9l-3.9-13l-3.5-13.2l-3.6-16l-3.1-16.1l-2.6-16.3l-2.3-16.3l-2.1-19l-2.2-24.7l-1.8-27.5l-4-85.4l-1.3-46.8l0.3-35.7l1.5-27.3l2.8-27.2l4-24.2l2.9-13.2l2.8-10.5l3.2-10.3l3.7-10.2l4.1-9.9l3.4-7.3l5-9.5l4-6.9l5.9-9l6.4-8.6l6.8-8.3l7.3-7.9l7.6-7.4l8.1-7l8.5-6.5l8.7-6.1l9.1-5.5l9.5-5l9.6-4.3l9.9-3.8l10.1-3.1l7.7-1.8l10.4-1.9l7.9-0.9l10.5-0.6l10.6 0l13.3 0.9l13.2 1.8l13.1 2.7l13 3.4l12.8 4.1l12.6 4.8l12.3 5.4l14.5 7.3l14 8.1l11.3 7.3l11 7.9l12.7 10.1l10.2 9l11.6 11.3l9.3 9.9l10.6 12.3l8.3 10.7l9.5 13.3l8.8 13.7l8.2 14.2l6.4 12l6.9 14.8l6.3 15.1l5.7 15.3l4.9 15.7l4.2 15.8l3.5 16l2.3 13.4l2.1 16.3l1.1 13.6l0.5 16.4l-0.1 13.6l-1 16.4l-1.4 13.6l-2.5 16.2l-3.2 16l-3.9 16l-5.4 18.4l-5.2 15.6l-6.7 18l-8.4 20.3l-9 20l-9.5 19.8l-9 17l-9.5 16.7l-8.7 13.9l-10.7 15.9l-9.7 13.1l-10.3 12.8l-10.9 12.2l-9.5 9.7l-11.9 11.2l-12.4 10.5l-12.8 9.9l-13.4 9.2l-11.5 7.2l-14.1 7.9l-14.5 7.1l-12.4 5.3l-12.6 4.5l-12.8 3.5l-10.3 2.1l-13.1 1.4l-10.4 0.1z" stroke="#00ffff" stroke-width="2"/>
<path id="separatrix" d="M524.3 1216.2l-9.6-12l-10.1-13.5l-9.5-13.8l-8.9-13.9l-8.3-14.1l-7.8-14.3l-7.3-14.5l-7.4-16.1l-6.9-16.3l-6.3-16.5l-5.8-16.6l-5.2-16.8l-4.9-16.9l-4.7-18.7l-4.2-18.7l-3.8-19l-5.9-35l-4.8-36.9l-4-40.5l-3.4-45.7l-7.4-143.4l-5.9-88.3l-1.8-33.6l-0.7-24.1l0-21.1l0.5-19.6l1.2-19.7l2.8-26.4l2-13.1l2.1-11.4l2.5-11.2l3-11.1l3.4-10.9l3.9-10.7l4.4-10.5l4.2-8.7l5.4-9.9l5.1-8.2l5.4-8l5.9-7.6l7.3-8.5l6.7-7l8.2-7.7l7.3-6.1l9-6.7l7.9-5.3l9.7-5.7l8.5-4.3l8.7-3.9l9-3.3l9.1-2.9l10.9-2.7l9.4-1.8l11.2-1.5l11.3-1l11.4-0.4l11.4 0.2l11.4 0.6l16.3 1.8l17.6 3l15.9 3.7l17.1 4.9l16.8 6l16.5 6.8l16.1 7.7l15.7 8.6l15.3 9.4l16.2 11.1l14.2 10.9l15 12.7l13.2 12.3l13.7 14.1l12 13.5l12.3 15.3l10.6 14.4l10.8 16.3l9.1 15.3l9.2 17.2l7.6 16l7.6 17.8l6.7 18.2l5.8 18.4l4.6 17.1l4.2 18.9l3.3 19l2.4 19.2l1.5 19.2l0.7 19.3l-0.3 19.4l-1 17.7l-1.8 17.6l-2.5 17.6l-3.3 17.5l-4.1 17.4l-4.7 17.3l-5.9 18.6l-6.6 18.5l-7.2 18.3l-8.5 19.6l-9.7 20.8l-10.4 20.5l-11.7 21.5l-11.4 19.7l-11.9 19.3l-12.5 18.8l-12.1 17.1l-9.7 12.8l-10.1 12.5l-10.4 12.3l-10.7 11.9l-11.1 11.7l-12.6 12.5l-26.1 24.3l-23.3 20.2l-27.8 22.7l-26.9 21.2l-72.1 55.6l-38.6 31.3M523 1215.7l-21.9 18.3l-20.6 18l-21.2 19.2l-20.6 19.6M523 1215.7l41.6 47.8l40.4 47.2" stroke="#000" stroke-width="4"/>
<path id="sep-tick" d="M544.2 1201L540.9 1196.9" stroke="#00ffff" stroke-width="2.4"/>
<path id="core-boundary" d="M600.1 1037l-11.5-1l-11.3-2.1l-11.1-3.2l-10.7-4.2l-10.2-5.1l-9.8-6.1l-9.1-6.8l-8.5-7.6l-8-8.1l-9.1-10.9l-8.2-11.4l-7.6-11.8l-6.8-12.2l-7.5-15.1l-5.6-12.8l-6-15.6l-4.5-13.2l-4-13.3l-3.6-13.5l-3.7-16.2l-3.2-16.4l-2.7-16.4l-2.3-16.5l-2.1-19.3l-2-22.1l-1.8-27.6l-5.1-102l-1.3-44.3l0.3-36l1.7-30.5l1.3-13.9l1.7-13.8l2.2-13.7l2.2-11l2.5-10.9l3-10.8l3.4-10.7l3.9-10.5l4.4-10.3l3.7-7.6l4-7.5l5.7-9.7l6.3-9.4l6.8-9l7.3-8.6l7.8-8.2l8.1-7.8l8.7-7.3l9-6.9l9.4-6.3l9.8-5.7l7.5-4l10.4-4.6l10.7-4l10.9-3.3l8.4-1.9l8.4-1.5l11.4-1.2l8.5-0.5l11.4 0.1l14.1 1l14 2.1l13.9 2.9l13.6 3.7l13.3 4.5l13.1 5.1l12.8 5.8l14.9 7.8l12.1 7.1l11.8 7.7l11.4 8.2l13.1 10.5l10.4 9.3l12 11.8l9.5 10.3l10.8 12.8l8.5 11.1l9.5 13.8l8.9 14.1l8.2 14.6l6.4 12.4l6.9 15.2l6.3 15.5l5.5 15.7l4.1 13.3l4.3 16.2l3.4 16.3l2.8 16.4l2 16.6l1.3 16.6l0.5 16.6l-0.2 13.9l-1 16.7l-1.4 13.8l-2.6 16.4l-3.3 16.4l-3.9 16.1l-4.6 16l-6.1 18.4l-6.7 18.2l-8.4 20.5l-8.9 20.3l-9.5 20l-10.2 19.7l-9.4 17l-10.1 16.6l-10.8 16.2l-11.5 15.7l-10.4 13l-11 12.6l-11.6 12.1l-10.2 9.6l-12.7 11l-11 8.6l-13.8 9.6l-11.9 7.4l-14.8 8.1l-12.7 6.1l-13 5.4l-13.4 4.6l-13.7 3.5l-11.2 2.1l-11.4 1.1l-11.5 0.1zM600.4 1027l10.6-0.1l13.2-1.4l10.5-2.1l12.9-3.6l12.7-4.5l12.5-5.3l14.6-7.2l14.2-7.9l11.5-7.2l13.4-9.3l13-10l12.4-10.6l12-11.2l9.5-9.8l10.9-12.2l10.3-12.8l9.8-13.2l10.8-15.9l8.7-14l9.5-16.7l9-17.1l9.6-19.8l9-20.1l8.4-20.4l6.7-18l5.2-15.6l5.4-18.5l3.9-16l3.3-16.2l2.5-16.2l1.4-13.7l1-16.4l0.1-13.7l-0.5-16.5l-1.1-13.7l-2.1-16.3l-2.3-13.5l-3.5-16.1l-4.3-15.9l-4.9-15.7l-5.7-15.4l-6.3-15.1l-7-14.9l-6.4-12.1l-8.2-14.2l-8.9-13.8l-9.5-13.3l-8.4-10.8l-10.6-12.4l-9.3-9.9l-11.8-11.4l-10.2-9l-12.7-10.2l-11.1-7.9l-11.4-7.4l-14.1-8.1l-14.5-7.3l-12.4-5.5l-12.7-4.8l-12.9-4.1l-13-3.5l-13.2-2.6l-13.3-1.9l-13.4-0.9l-10.7 0l-10.7 0.6l-7.9 0.9l-10.5 1.9l-7.8 1.9l-10.2 3.1l-10 3.8l-9.8 4.4l-9.5 5l-9.1 5.6l-8.9 6.1l-8.5 6.6l-8.2 7l-7.7 7.5l-7.3 8l-6.9 8.3l-6.4 8.7l-5.9 9l-4.1 7l-5.1 9.6l-3.4 7.4l-4.1 10l-3.7 10.2l-3.2 10.4l-2.8 10.5l-3 13.3l-2 10.8l-2 13.5l-2.8 27.3l-1.5 27.4l-0.3 35.8l1.3 46.8l4 85.4l1.8 27.5l2.2 24.7l2.1 19.1l2.3 16.4l2.6 16.2l3.1 16.2l3.7 16l3.5 13.3l3.9 13.1l4.4 13l5.9 15.2l6.6 15l7.4 14.6l6.8 11.8l7.3 11.4l8 10.9l8.7 10.3l7.4 7.7l10.1 8.9l8.6 6.2l9 5.5l9.6 4.7l9.9 3.8l10.1 2.8l10.4 2l10.5 0.8z" fill="#ff0000" fill-rule="evenodd" stroke="#000" stroke-width="2.4"/>
</g>
<g shape-rendering="crispEdges" stroke="#262626" fill="none" stroke-width="4">
<rect x="257" y="50" width="748" height="1347"/>
<path d="M356.7 1397V1382 M356.7 50V65 M556.2 1397V1382 M556.2 50V65 M755.7 1397V1382 M755.7 50V65 M955.1 1397V1382 M955.1 50V65 M257 249.6H272 M1005 249.6H990 M257 449.1H272 M1005 449.1H990 M257 648.7H272 M1005 648.7H990 M257 848.2H272 M1005 848.2H990 M257 1047.8H272 M1005 1047.8H990 M257 1247.3H272 M1005 1247.3H990"/>
</g>
<g class="lt">
<text x="305.4" y="1464.9" font-size="54.5" stroke-width="0.9">400</text>
<text x="504.4" y="1464.9" font-size="54.5" stroke-width="0.9">600</text>
<text x="703.9" y="1464.9" font-size="54.5" stroke-width="0.9">800</text>
<text x="884.8" y="1464.9" font-size="54.5" stroke-width="0.9">1000</text>
<text x="135.6" y="67.8" font-size="54.5" stroke-width="0.9">600</text>
<text x="135.6" y="267.4" font-size="54.5" stroke-width="0.9">400</text>
<text x="135.6" y="466.9" font-size="54.5" stroke-width="0.9">200</text>
<text x="205.6" y="666.5" font-size="54.5" stroke-width="0.9">0</text>
<text x="116.6" y="866" font-size="54.5" stroke-width="0.9">-200</text>
<text x="116.6" y="1065.6" font-size="54.5" stroke-width="0.9">-400</text>
<text x="116.6" y="1265.1" font-size="54.5" stroke-width="0.9">-600</text>
<text x="536.9" y="1534" font-size="54.5" stroke-width="0.9">R</text>
<text x="627.1" y="1533.9" font-size="54.5" stroke-width="0.9">(</text>
<text x="649" y="1535.7" font-size="46.5" font-style="italic" stroke-width="0.6">ρ</text>
<text x="677" y="1561.9" font-size="44" stroke-width="0.8">L</text>
<text x="702.2" y="1533.9" font-size="54.5" stroke-width="0.9">)</text>
<text transform="translate(69,817.7) rotate(-90)" font-size="54.5" stroke-width="0.9">Z</text>
<text transform="translate(68.9,728.7) rotate(-90)" font-size="54.5" stroke-width="0.9">(</text>
<text transform="translate(71,705.7) rotate(-90)" font-size="46.5" font-style="italic" stroke-width="0.6">ρ</text>
<text transform="translate(97,677.8) rotate(-90)" font-size="44" stroke-width="0.8">L</text>
<text transform="translate(68.9,653.7) rotate(-90)" font-size="54.5" stroke-width="0.9">)</text>
</g>
</g>
<g id="right-plot">
<g shape-rendering="crispEdges" fill="none" stroke-width="2">
<g stroke="#0000ff">
<path d="M1948 1344.7L1948 1400.9M1934.3 1344.3L1931.5 1400.5M1920.6 1343.3L1915.1 1399.3M1906.9 1341.6L1898.7 1397.3M1893.4 1339.3L1882.4 1394.5M1880 1336.3L1866.3 1390.9M1866.8 1332.6L1850.4 1386.5M1853.7 1328.3L1834.8 1381.3M1840.9 1323.3L1819.4 1375.3M1828.3 1317.8L1804.3 1368.7M1816.1 1311.6L1789.5 1361.2M1804.1 1304.8L1775.2 1353.1M1792.5 1297.5L1761.3 1344.3M1781.3 1289.6L1747.8 1334.8M1770.5 1281.1L1734.8 1324.6M1760.1 1272.2L1722.3 1313.9M1750.1 1262.7L1710.3 1302.5M1740.6 1252.7L1698.9 1290.5M1731.7 1242.3L1688.2 1278M1723.2 1231.5L1678 1265M1715.3 1220.3L1668.5 1251.5M1708 1208.7L1659.7 1237.6M1701.2 1196.7L1651.6 1223.3M1695 1184.5L1644.1 1208.5M1689.5 1171.9L1637.5 1193.4M1684.5 1159.1L1631.5 1178M1680.2 1146L1626.3 1162.4M1676.5 1132.8L1621.9 1146.5M1673.5 1119.4L1618.3 1130.4M1671.2 1105.9L1615.5 1114.1M1669.5 1092.2L1613.5 1097.7M1668.5 1078.5L1612.3 1081.3M1668.2 1064.8L1611.9 1064.8M1668.5 1051.1L1612.3 1048.3M1669.5 1037.4L1613.5 1031.9M1671.2 1023.7L1615.5 1015.5M1673.5 1010.2L1618.3 999.2M1676.5 996.8L1621.9 983.1M1680.2 983.6L1626.3 967.2M1684.5 970.5L1631.5 951.6M1689.5 957.7L1637.5 936.2M1695 945.1L1644.1 921.1M1701.2 932.9L1651.6 906.3M1708 920.9L1659.7 892M1715.3 909.3L1668.5 878.1M1723.2 898.1L1678 864.6M1731.7 887.3L1688.2 851.6M1740.6 876.9L1698.9 839.1M1750.1 866.9L1710.3 827.1M1760.1 857.4L1722.3 815.7M1770.5 848.5L1734.8 805M1781.3 840L1747.8 794.8M1792.5 832.1L1761.3 785.3M1804.1 824.8L1775.2 776.5M1816.1 818L1789.5 768.4M1828.3 811.8L1804.3 760.9M1840.9 806.3L1819.4 754.3M1853.7 801.3L1834.8 748.3M1866.8 797L1850.4 743.1M1880 793.3L1866.3 738.7M1893.4 790.3L1882.4 735.1M1906.9 788L1898.7 732.3M1920.6 786.3L1915.1 730.3M1934.3 785.3L1931.5 729.1M1948 784.9L1948 728.7M1961.7 785.3L1964.5 729.1M1975.4 786.3L1980.9 730.3M1989.1 788L1997.3 732.3M2002.6 790.3L2013.6 735.1M2016 793.3L2029.7 738.7M2029.2 797L2045.6 743.1M2042.3 801.3L2061.2 748.3M2055.1 806.3L2076.6 754.3M2067.7 811.8L2091.7 760.9M2079.9 818L2106.5 768.4M2091.9 824.8L2120.8 776.5M2103.5 832.1L2134.7 785.3M2114.7 840L2148.2 794.8M2125.5 848.5L2161.2 805M2135.9 857.4L2173.7 815.7M2145.9 866.9L2185.7 827.1M2155.4 876.9L2197.1 839.1M2164.3 887.3L2207.8 851.6M2172.8 898.1L2218 864.6M2180.7 909.3L2227.5 878.1M2188 920.9L2236.3 892M2194.8 932.9L2244.4 906.3M2201 945.1L2251.9 921.1M2206.5 957.7L2258.5 936.2M2211.5 970.5L2264.5 951.6M2215.8 983.6L2269.7 967.2M2219.5 996.8L2274.1 983.1M2222.5 1010.2L2277.7 999.2M2224.8 1023.7L2280.5 1015.5M2226.5 1037.4L2282.5 1031.9M2227.5 1051.1L2283.7 1048.3M2227.8 1064.8L2284.1 1064.8M2227.5 1078.5L2283.7 1081.3M2226.5 1092.2L2282.5 1097.7M2224.8 1105.9L2280.5 1114.1M2222.5 1119.4L2277.7 1130.4M2219.5 1132.8L2274.1 1146.5M2215.8 1146L2269.7 1162.4M2211.5 1159.1L2264.5 1178M2206.5 1171.9L2258.5 1193.4M2201 1184.5L2251.9 1208.5M2194.8 1196.7L2244.4 1223.3M2188 1208.7L2236.3 1237.6M2180.7 1220.3L2227.5 1251.5M2172.8 1231.5L2218 1265M2164.3 1242.3L2207.8 1278M2155.4 1252.7L2197.1 1290.5M2145.9 1262.7L2185.7 1302.5M2135.9 1272.2L2173.7 1313.9M2125.5 1281.1L2161.2 1324.6M2114.7 1289.6L2148.2 1334.8M2103.5 1297.5L2134.7 1344.3M2091.9 1304.8L2120.8 1353.1M2079.9 1311.6L2106.5 1361.2M2067.7 1317.8L2091.7 1368.7M2055.1 1323.3L2076.6 1375.3M2042.3 1328.3L2061.2 1381.3M2029.2 1332.6L2045.6 1386.5M2016 1336.3L2029.7 1390.9M2002.6 1339.3L2013.6 1394.5M1989.1 1341.6L1997.3 1397.3M1975.4 1343.3L1980.9 1399.3M1961.7 1344.3L1964.5 1400.5"/>
<circle cx="1948" cy="1064.8" r="286.89"/>
<circle cx="1948" cy="1064.8" r="293.92"/>
<circle cx="1948" cy="1064.8" r="300.96"/>
<circle cx="1948" cy="1064.8" r="307.99"/>
<circle cx="1948" cy="1064.8" r="315.03"/>
<circle cx="1948" cy="1064.8" r="322.06"/>
<circle cx="1948" cy="1064.8" r="329.1"/>
<circle cx="1948" cy="1064.8" r="336.13"/>
</g>
<g stroke="#00ffff">
<path d="M1948 1288.4L1948 1344.7M1937 1288.1L1934.3 1344.3M1926.1 1287.3L1920.6 1343.3M1915.2 1286L1906.9 1341.6M1904.4 1284.1L1893.4 1339.3M1893.7 1281.7L1880 1336.3M1883.1 1278.7L1866.8 1332.6M1872.7 1275.3L1853.7 1328.3M1862.4 1271.4L1840.9 1323.3M1852.4 1266.9L1828.3 1317.8M1842.6 1262L1816.1 1311.6M1833.1 1256.6L1804.1 1304.8M1823.8 1250.7L1792.5 1297.5M1814.8 1244.4L1781.3 1289.6M1806.2 1237.6L1770.5 1281.1M1797.9 1230.5L1760.1 1272.2M1789.9 1222.9L1750.1 1262.7M1782.3 1214.9L1740.6 1252.7M1775.2 1206.6L1731.7 1242.3M1768.4 1198L1723.2 1231.5M1762.1 1189L1715.3 1220.3M1756.2 1179.7L1708 1208.7M1750.8 1170.2L1701.2 1196.7M1745.9 1160.4L1695 1184.5M1741.4 1150.4L1689.5 1171.9M1737.5 1140.1L1684.5 1159.1M1734.1 1129.7L1680.2 1146M1731.1 1119.1L1676.5 1132.8M1728.7 1108.4L1673.5 1119.4M1726.8 1097.6L1671.2 1105.9M1725.5 1086.7L1669.5 1092.2M1724.7 1075.8L1668.5 1078.5M1724.4 1064.8L1668.2 1064.8M1724.7 1053.8L1668.5 1051.1M1725.5 1042.9L1669.5 1037.4M1726.8 1032L1671.2 1023.7M1728.7 1021.2L1673.5 1010.2M1731.1 1010.5L1676.5 996.8M1734.1 999.9L1680.2 983.6M1737.5 989.5L1684.5 970.5M1741.4 979.2L1689.5 957.7M1745.9 969.2L1695 945.1M1750.8 959.4L1701.2 932.9M1756.2 949.9L1708 920.9M1762.1 940.6L1715.3 909.3M1768.4 931.6L1723.2 898.1M1775.2 923L1731.7 887.3M1782.3 914.7L1740.6 876.9M1789.9 906.7L1750.1 866.9M1797.9 899.1L1760.1 857.4M1806.2 892L1770.5 848.5M1814.8 885.2L1781.3 840M1823.8 878.9L1792.5 832.1M1833.1 873L1804.1 824.8M1842.6 867.6L1816.1 818M1852.4 862.7L1828.3 811.8M1862.4 858.2L1840.9 806.3M1872.7 854.3L1853.7 801.3M1883.1 850.9L1866.8 797M1893.7 847.9L1880 793.3M1904.4 845.5L1893.4 790.3M1915.2 843.6L1906.9 788M1926.1 842.3L1920.6 786.3M1937 841.5L1934.3 785.3M1948 841.2L1948 784.9M1959 841.5L1961.7 785.3M1969.9 842.3L1975.4 786.3M1980.8 843.6L1989.1 788M1991.6 845.5L2002.6 790.3M2002.3 847.9L2016 793.3M2012.9 850.9L2029.2 797M2023.3 854.3L2042.3 801.3M2033.6 858.2L2055.1 806.3M2043.6 862.7L2067.7 811.8M2053.4 867.6L2079.9 818M2062.9 873L2091.9 824.8M2072.2 878.9L2103.5 832.1M2081.2 885.2L2114.7 840M2089.8 892L2125.5 848.5M2098.1 899.1L2135.9 857.4M2106.1 906.7L2145.9 866.9M2113.7 914.7L2155.4 876.9M2120.8 923L2164.3 887.3M2127.6 931.6L2172.8 898.1M2133.9 940.6L2180.7 909.3M2139.8 949.9L2188 920.9M2145.2 959.4L2194.8 932.9M2150.1 969.2L2201 945.1M2154.6 979.2L2206.5 957.7M2158.5 989.5L2211.5 970.5M2161.9 999.9L2215.8 983.6M2164.9 1010.5L2219.5 996.8M2167.3 1021.2L2222.5 1010.2M2169.2 1032L2224.8 1023.7M2170.5 1042.9L2226.5 1037.4M2171.3 1053.8L2227.5 1051.1M2171.6 1064.8L2227.8 1064.8M2171.3 1075.8L2227.5 1078.5M2170.5 1086.7L2226.5 1092.2M2169.2 1097.6L2224.8 1105.9M2167.3 1108.4L2222.5 1119.4M2164.9 1119.1L2219.5 1132.8M2161.9 1129.7L2215.8 1146M2158.5 1140.1L2211.5 1159.1M2154.6 1150.4L2206.5 1171.9M2150.1 1160.4L2201 1184.5M2145.2 1170.2L2194.8 1196.7M2139.8 1179.7L2188 1208.7M2133.9 1189L2180.7 1220.3M2127.6 1198L2172.8 1231.5M2120.8 1206.6L2164.3 1242.3M2113.7 1214.9L2155.4 1252.7M2106.1 1222.9L2145.9 1262.7M2098.1 1230.5L2135.9 1272.2M2089.8 1237.6L2125.5 1281.1M2081.2 1244.4L2114.7 1289.6M2072.2 1250.7L2103.5 1297.5M2062.9 1256.6L2091.9 1304.8M2053.4 1262L2079.9 1311.6M2043.6 1266.9L2067.7 1317.8M2033.6 1271.4L2055.1 1323.3M2023.3 1275.3L2042.3 1328.3M2012.9 1278.7L2029.2 1332.6M2002.3 1281.7L2016 1336.3M1991.6 1284.1L2002.6 1339.3M1980.8 1286L1989.1 1341.6M1969.9 1287.3L1975.4 1343.3M1959 1288.1L1961.7 1344.3"/>
<circle cx="1948" cy="1064.8" r="272.81"/>
<circle cx="1948" cy="1064.8" r="265.78"/>
<circle cx="1948" cy="1064.8" r="258.75"/>
<circle cx="1948" cy="1064.8" r="251.71"/>
<circle cx="1948" cy="1064.8" r="244.68"/>
<circle cx="1948" cy="1064.8" r="237.64"/>
<circle cx="1948" cy="1064.8" r="230.61"/>
<circle cx="1948" cy="1064.8" r="222.67"/>
</g>
<circle cx="1948" cy="1064.8" r="279.85" stroke="#000" stroke-width="2.2"/>
<circle cx="1947.6" cy="1064.8" r="227.8" stroke="#000" stroke-width="8.2"/>
<circle cx="1947.6" cy="1064.8" r="227.9" stroke="#ff0000" stroke-width="6"/>
</g>
<path d="M1948.4 1346.3V1399.4" stroke="#000" stroke-width="13" stroke-linecap="round" fill="none"/>
<g shape-rendering="crispEdges" stroke="#262626" fill="none" stroke-width="2">
<rect x="1576.4" y="704" width="731.6" height="722"/>
<path d="M1652.8 1426V1417 M1652.8 704V713 M1871.2 1426V1417 M1871.2 704V713 M2089.7 1426V1417 M2089.7 704V713 M1576.4 736.7H1585.4 M2308 736.7H2299 M1576.4 846H1585.4 M2308 846H2299 M1576.4 955.4H1585.4 M2308 955.4H2299 M1576.4 1064.8H1585.4 M2308 1064.8H2299 M1576.4 1174.2H1585.4 M2308 1174.2H2299 M1576.4 1283.6H1585.4 M2308 1283.6H2299 M1576.4 1392.9H1585.4 M2308 1392.9H2299"/>
</g>
<g class="rt">
<text x="1605.2" y="1484.6" font-size="48" stroke-width="0.45">600</text>
<text x="1823.6" y="1484.6" font-size="48" stroke-width="0.45">800</text>
<text x="2027.1" y="1484.6" font-size="48" stroke-width="0.45">1000</text>
<text x="2245.5" y="1484.6" font-size="48" stroke-width="0.45">1200</text>
<text x="1469.9" y="754.1" font-size="48" stroke-width="0.45">300</text>
<text x="1469.9" y="863.4" font-size="48" stroke-width="0.45">200</text>
<text x="1469.9" y="972.8" font-size="48" stroke-width="0.45">100</text>
<text x="1523.9" y="1082.2" font-size="48" stroke-width="0.45">0</text>
<text x="1453.9" y="1191.6" font-size="48" stroke-width="0.45">-100</text>
<text x="1453.9" y="1301" font-size="48" stroke-width="0.45">-200</text>
<text x="1453.9" y="1410.3" font-size="48" stroke-width="0.45">-300</text>
<text x="1853.9" y="1546" font-size="51.5" stroke-width="0.45">R</text>
<text x="1933.8" y="1545.9" font-size="51.5" stroke-width="0.45">(</text>
<text x="1960.9" y="1545.9" font-size="53" font-style="italic" stroke-width="0.3">ρ</text>
<text x="1987.2" y="1570.9" font-size="41.2" stroke-width="0.4">L</text>
<text x="2012.8" y="1545.9" font-size="51.5" stroke-width="0.45">)</text>
<text transform="translate(1414,1154.8) rotate(-90)" font-size="51.5" stroke-width="0.45">Z</text>
<text transform="translate(1414.2,1079.9) rotate(-90)" font-size="51.5" stroke-width="0.45">(</text>
<text transform="translate(1414.2,1046.7) rotate(-90)" font-size="53" font-style="italic" stroke-width="0.3">ρ</text>
<text transform="translate(1439,1020.9) rotate(-90)" font-size="41.2" stroke-width="0.4">L</text>
<text transform="translate(1414.2,995.1) rotate(-90)" font-size="51.5" stroke-width="0.45">)</text>
</g>
</g>
</svg>
</body>
</html>
